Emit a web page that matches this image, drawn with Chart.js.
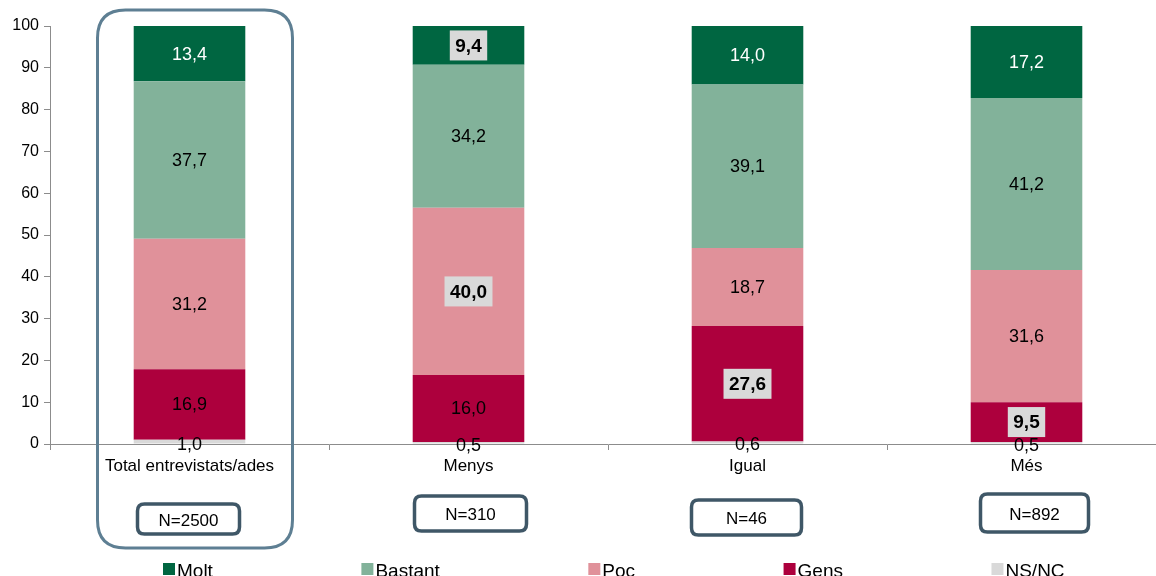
<!DOCTYPE html>
<html><head><meta charset="utf-8">
<script src="https://cdn.jsdelivr.net/npm/chart.js@4/dist/chart.umd.min.js"></script>
<style>
html,body{margin:0;padding:0;background:#fff;overflow:hidden;width:1156px;height:576px}
#wrap{position:relative;width:1166px;height:576px}
canvas{display:block}
</style></head><body><div id="wrap"><canvas id="c" width="1166" height="576"></canvas></div>
<script>
const categories = ['Total entrevistats/ades', 'Menys', 'Igual', 'Més'];
const sampleSizes = ['N=2500', 'N=310', 'N=46', 'N=892'];
const seriesNames = ['Molt', 'Bastant', 'Poc', 'Gens', 'NS/NC'];
const molt    = [13.4,  9.4, 14.0, 17.2];
const bastant = [37.7, 34.2, 39.1, 41.2];
const poc     = [31.2, 40.0, 18.7, 31.6];
const gens    = [16.9, 16.0, 27.6,  9.5];
const nsnc    = [ 1.0,  0.5,  0.6,  0.5];
const yTicks  = [0, 10, 20, 30, 40, 50, 60, 70, 80, 90, 100];
// highlighted (bold, boxed) labels: category indexes per series
const highlightMolt = [1];
const highlightPoc  = [1];
const highlightGens = [2, 3];

const colors = {Molt:'#006641', Bastant:'#82B29A', Poc:'#E0919A', Gens:'#AD003D', 'NS/NC':'#D9D9D9'};
const labelColors = {Molt:'#ffffff', Bastant:'#000000', Poc:'#000000', Gens:'#000000', 'NS/NC':'#000000'};
const highlights = {Molt:highlightMolt, Poc:highlightPoc, Gens:highlightGens};

const seriesData = {Molt:molt, Bastant:bastant, Poc:poc, Gens:gens, 'NS/NC':nsnc};
// stacked from bottom: NS/NC, Gens, Poc, Bastant, Molt
const stackOrder = ['NS/NC', 'Gens', 'Poc', 'Bastant', 'Molt'];

const datasets = stackOrder.map(name => ({
  label: name,
  data: seriesData[name],
  backgroundColor: colors[name],
  borderWidth: 0,
  categoryPercentage: 1.0,
  barPercentage: 0.4
}));

function fmt(v){ return v.toFixed(1).replace('.', ','); }

function roundRect(ctx, x, y, w, h, r){
  ctx.beginPath();
  ctx.moveTo(x + r, y);
  ctx.lineTo(x + w - r, y);
  ctx.quadraticCurveTo(x + w, y, x + w, y + r);
  ctx.lineTo(x + w, y + h - r);
  ctx.quadraticCurveTo(x + w, y + h, x + w - r, y + h);
  ctx.lineTo(x + r, y + h);
  ctx.quadraticCurveTo(x, y + h, x, y + h - r);
  ctx.lineTo(x, y + r);
  ctx.quadraticCurveTo(x, y, x + r, y);
  ctx.closePath();
}

const labelPlugin = {
  id: 'valueLabels',
  afterDatasetsDraw(chart){
    const ctx = chart.ctx;
    ctx.save();
    chart.data.datasets.forEach((ds, di) => {
      const meta = chart.getDatasetMeta(di);
      const name = ds.label;
      meta.data.forEach((bar, i) => {
        const v = ds.data[i];
        const top = Math.max(bar.y, chart.chartArea.top);
        let cy = (top + bar.base) / 2;
        if (name === 'NS/NC') cy += 2;
        const txt = fmt(v);
        const hl = highlights[name] && highlights[name].includes(i);
        ctx.textAlign = 'center';
        ctx.textBaseline = 'middle';
        if (hl) {
          ctx.font = 'bold 19px "Liberation Sans", Arial, sans-serif';
          const w = ctx.measureText(txt).width + 11;
          ctx.fillStyle = '#D9D9D9';
          ctx.fillRect(bar.x - w / 2, cy - 15, w, 30);
          ctx.fillStyle = '#000';
          ctx.fillText(txt, bar.x, cy + 1);
        } else {
          ctx.font = '18px "Liberation Sans", Arial, sans-serif';
          ctx.fillStyle = labelColors[name];
          ctx.fillText(txt, bar.x, cy + 1);
        }
      });
    });
    ctx.restore();
  }
};

const decoPlugin = {
  id: 'deco',
  afterDraw(chart){
    const ctx = chart.ctx;
    const xs = chart.scales.x;
    ctx.save();
    // big rounded frame around first category
    const c0 = xs.getPixelForValue(0);
    ctx.strokeStyle = '#5E7F93';
    ctx.lineWidth = 3;
    roundRect(ctx, c0 - 92, 10, 195, 538, 28);
    ctx.stroke();
    // N boxes
    const boxTops = [504, 496, 500, 494];
    const boxHeights = [30, 35, 35, 38];
    const boxWidths = [102, 112, 110, 108];
    const boxShift = [-1, 2, -1, 8];
    sampleSizes.forEach((s, i) => {
      const cx = xs.getPixelForValue(i) + boxShift[i];
      ctx.strokeStyle = '#3F5767';
      ctx.lineWidth = 3.5;
      roundRect(ctx, cx - boxWidths[i] / 2, boxTops[i], boxWidths[i], boxHeights[i], 7);
      ctx.stroke();
      ctx.fillStyle = '#000';
      ctx.font = '17px "Liberation Sans", Arial, sans-serif';
      ctx.textAlign = 'center';
      ctx.textBaseline = 'middle';
      ctx.fillText(s, cx, boxTops[i] + boxHeights[i] / 2 + 2);
    });
    // legend
    ctx.font = '19px "Liberation Sans", Arial, sans-serif';
    ctx.textAlign = 'left';
    ctx.textBaseline = 'alphabetic';
    let x = 163;
    seriesNames.forEach(name => {
      ctx.fillStyle = colors[name];
      ctx.fillRect(x, 563, 12, 12);
      ctx.fillStyle = '#000';
      ctx.fillText(name, x + 14, 577);
      x += 14 + ctx.measureText(name).width + 148.5;
    });
    ctx.restore();
  }
};

new Chart(document.getElementById('c'), {
  type: 'bar',
  data: { labels: categories, datasets },
  plugins: [labelPlugin, decoPlugin],
  options: {
    responsive: false,
    devicePixelRatio: 1,
    animation: false,
    layout: { padding: { top: 26, bottom: 102, left: 0, right: 0 } },
    plugins: { legend: { display: false }, tooltip: { enabled: false } },
    scales: {
      x: {
        stacked: true,
        offset: true,
        grid: { offset: true, drawOnChartArea: false, drawTicks: true, tickLength: 6, color: '#8C8C8C' },
        border: { color: '#8C8C8C', width: 1 },
        ticks: { color: '#000', font: { size: 17, family: '"Liberation Sans", Arial, sans-serif' }, padding: 6, maxRotation: 0, autoSkip: false },
        afterFit(scale){ scale.height = 30; }
      },
      y: {
        stacked: true,
        min: 0, max: 100,
        afterBuildTicks(scale){ scale.ticks = yTicks.map(v => ({ value: v })); },
        grid: { drawOnChartArea: false, drawTicks: true, tickLength: 6, color: '#8C8C8C' },
        border: { color: '#8C8C8C', width: 1 },
        ticks: { color: '#000', font: { size: 16, family: '"Liberation Sans", Arial, sans-serif' }, padding: 5 },
        afterFit(scale){ scale.width = 50; }
      }
    }
  }
});
</script></body></html>
